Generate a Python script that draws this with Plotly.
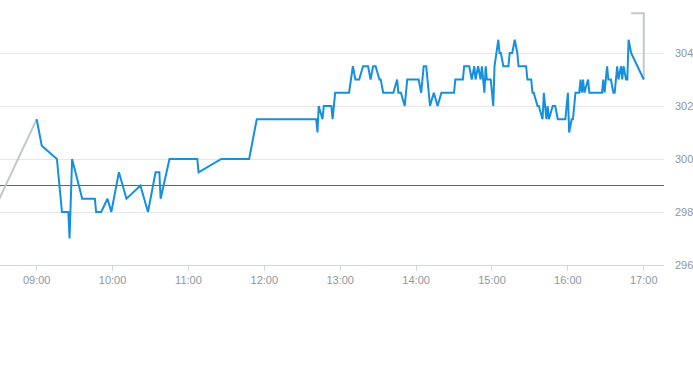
import plotly.graph_objects as go

DAY = "2024-01-02 "

# intraday price series (time, price)
times = ["09:00","09:04","09:16","09:20","09:25","09:26","09:28","09:36","09:46","09:47",
         "09:51","09:56","09:59","10:05","10:11","10:22","10:28","10:34","10:37","10:38",
         "10:45","11:07","11:08","11:26","11:48","11:54","12:41","12:42","12:43","12:46",
         "12:47","12:53","12:54","12:56","13:07","13:10","13:12","13:15","13:18","13:22",
         "13:24","13:26","13:28","13:31","13:32","13:34","13:42","13:45","13:46","13:48",
         "13:51","13:53","14:02","14:04","14:06","14:08","14:11","14:14","14:17","14:20",
         "14:30","14:31","14:37","14:38","14:42","14:44","14:46","14:47","14:49","14:51",
         "14:52","14:54","14:55","14:56","14:59","15:01","15:02","15:05","15:06","15:07",
         "15:09","15:13","15:14","15:16","15:18","15:20","15:21","15:27","15:28","15:31",
         "15:32","15:33","15:36","15:37","15:40","15:41","15:43","15:44","15:45","15:48",
         "15:50","15:52","15:58","16:00","16:01","16:03","16:04","16:06","16:09","16:10",
         "16:11","16:12","16:13","16:16","16:17","16:27","16:28","16:29","16:31","16:32",
         "16:34","16:36","16:37","16:39","16:40","16:42","16:43","16:44","16:46","16:47",
         "16:48","16:50","17:00"]
prices = [301.5,300.5,300.0,298.0,298.0,297.0,300.0,298.5,298.5,298.0,
          298.0,298.5,298.0,299.5,298.5,299.0,298.0,299.5,299.5,298.5,
          300.0,300.0,299.5,300.0,300.0,301.5,301.5,301.0,302.0,301.5,
          302.0,302.0,301.5,302.5,302.5,303.5,303.0,303.0,303.5,303.5,
          303.0,303.5,303.5,303.0,303.0,302.5,302.5,303.0,302.5,302.5,
          302.0,303.0,303.0,302.5,303.5,303.5,302.0,302.5,302.0,302.5,
          302.5,303.0,303.0,303.5,303.5,303.0,303.5,303.0,303.5,303.0,
          303.5,302.5,303.5,303.0,303.0,302.0,303.5,304.5,304.0,304.0,
          303.5,303.5,304.0,304.0,304.5,304.0,303.5,303.5,303.0,303.0,
          302.5,302.5,302.0,302.0,301.5,302.5,301.5,302.0,301.5,302.0,
          302.0,301.5,301.5,302.5,301.0,301.5,301.5,302.5,302.5,303.0,
          302.5,303.0,302.5,303.0,302.5,302.5,303.0,302.5,303.5,303.0,
          303.0,302.5,302.5,303.5,303.0,303.5,303.0,303.5,303.0,303.0,
          304.5,304.0,303.0]

# grey connector segments (outside session)
grey_start_times = ["08:30", "09:00"]
grey_start_prices = [298.45, 301.5]
grey_end_times = ["16:50", "17:00", "17:00"]
grey_end_prices = [305.5, 305.5, 303.0]

prev_close = 299.0

y_ticks = [296, 298, 300, 302, 304]
x_range = ["08:31", "17:16"]

fig = go.Figure()
fig.add_trace(go.Scatter(x=[DAY + x_range[0], DAY + x_range[1]], y=[prev_close, prev_close],
                         mode="lines", line=dict(color="rgb(226,48,40)", width=1.2),
                         hoverinfo="skip", showlegend=False))
fig.add_trace(go.Scatter(x=[DAY + t for t in grey_start_times], y=grey_start_prices,
                         mode="lines", line=dict(color="#c3c8ce", width=2),
                         hoverinfo="skip", showlegend=False))
fig.add_trace(go.Scatter(x=[DAY + t for t in grey_end_times], y=grey_end_prices,
                         mode="lines", line=dict(color="#c3c8ce", width=2),
                         hoverinfo="skip", showlegend=False))
fig.add_trace(go.Scatter(x=[DAY + t for t in times], y=prices, mode="lines",
                         line=dict(color="#1590e0", width=2), showlegend=False))

fig.update_layout(
    width=693, height=365,
    margin=dict(l=0, r=29, t=0, b=100, autoexpand=False),
    paper_bgcolor="white", plot_bgcolor="white",
    font=dict(family="Liberation Sans, Arial, sans-serif", size=11, color="#8d97a1"),
    xaxis=dict(
        type="date", automargin=False,
        range=[DAY + x_range[0], DAY + x_range[1]],
        tickformat="%H:%M", dtick=3600000, tick0=DAY + "09:00",
        showgrid=False, showline=True, linecolor="#ccd6eb", linewidth=1,
        ticks="outside", ticklen=5, tickcolor="#ccd6eb",
        zeroline=False, fixedrange=True,
        tickfont=dict(size=11, color="#8d97a1"),
    ),
    yaxis=dict(
        side="right", range=[296, 306], tickvals=y_ticks, automargin=False,
        showgrid=True, gridcolor="#e6e6e6", gridwidth=1,
        zeroline=False, showline=False, fixedrange=True,
        ticklabelstandoff=10,
        tickfont=dict(size=11, color="#8d97a1"),
    ),
)

fig.write_html("out.html", config={"displayModeBar": False, "staticPlot": True},
               post_script="document.body.style.margin='0';document.body.style.padding='0';")
